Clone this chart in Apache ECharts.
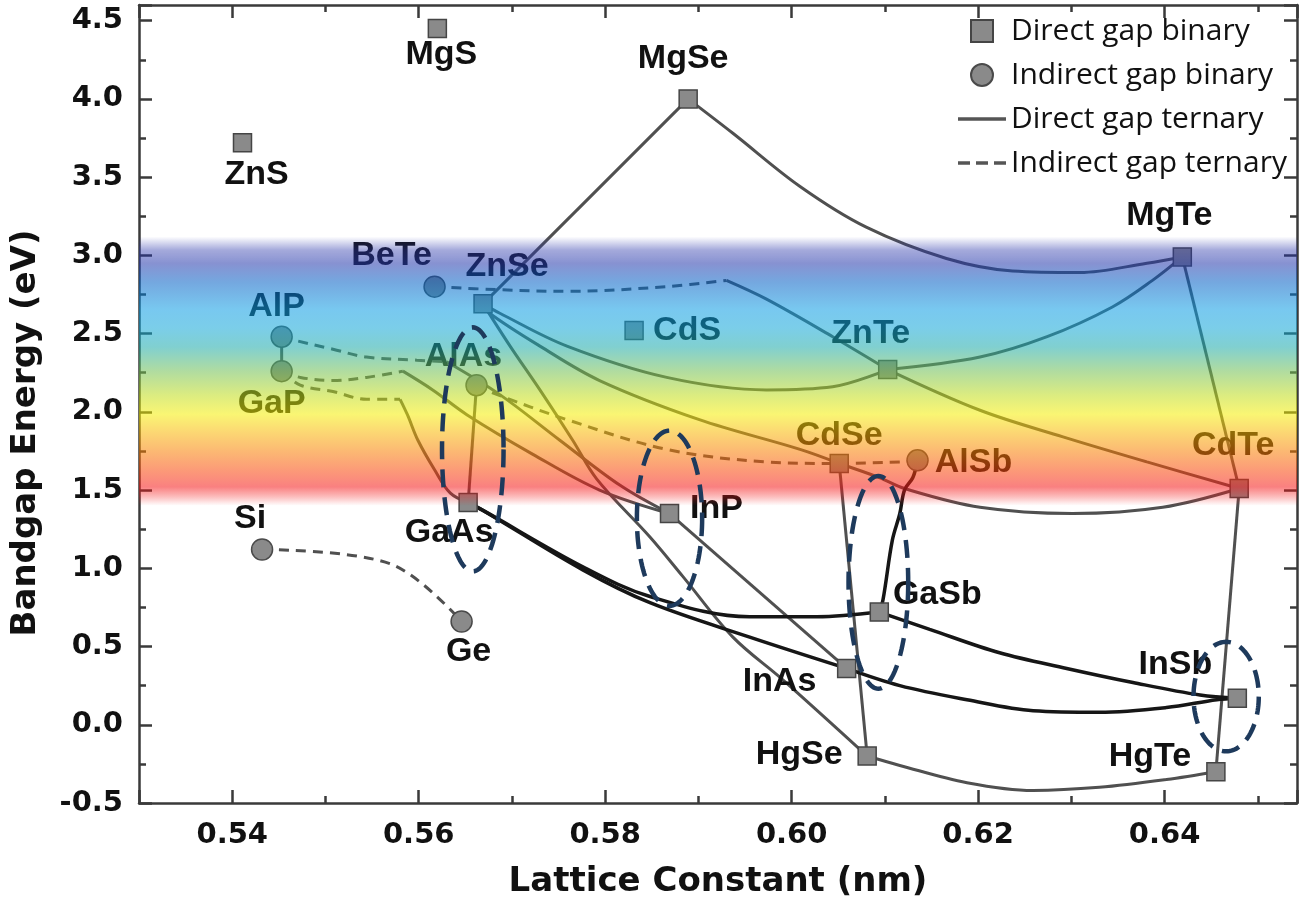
<!DOCTYPE html>
<html>
<head>
<meta charset="utf-8">
<script src="https://cdn.jsdelivr.net/npm/echarts/dist/echarts.min.js"></script>
<style>html,body{margin:0;padding:0;background:#fff}#c{width:1304px;height:905px}</style>
</head>
<body>
<div id="c"></div>
<script>
// ---------- binaries: lattice constant (nm), bandgap (eV) ----------
const directNames = ['ZnS','MgS','MgSe','MgTe','ZnSe','CdS','ZnTe','CdSe','CdTe','GaAs','InP','InAs','GaSb','InSb','HgSe','HgTe'];
const directX     = [0.5411,0.5620,0.5889,0.6419,0.5669,0.5831,0.6103,0.6051,0.6480,0.5653,0.5869,0.6059,0.6094,0.6478,0.6081,0.6455];
const directY     = [3.72,4.45,4.00,2.99,2.69,2.52,2.27,1.67,1.51,1.42,1.35,0.36,0.72,0.17,-0.20,-0.30];

const indirectNames = ['BeTe','AlP','GaP','AlAs','AlSb','Si','Ge'];
const indirectX     = [0.5617,0.5453,0.5453,0.5662,0.6135,0.5432,0.5646];
const indirectY     = [2.80,2.48,2.26,2.17,1.69,1.12,0.66];

// ---------- ternary curves [lattice nm, gap eV] ----------
// direct gap (grey)
const ZnSe_MgSe = [[0.5669,2.69],[0.5889,4.00]];
const MgSe_MgTe = [[0.5889,4.00],[0.5937,3.78],[0.6009,3.44],[0.6080,3.18],[0.6166,2.98],[0.6237,2.90],[0.6309,2.89],[0.6381,2.95],[0.6419,2.99]];
const ZnTe_MgTe = [[0.6103,2.27],[0.6202,2.35],[0.6274,2.48],[0.6344,2.67],[0.6387,2.84],[0.6419,2.99]];
const MgTe_CdTe = [[0.6419,2.99],[0.6480,1.51]];
const ZnTe_CdTe = [[0.6103,2.27],[0.6202,2.01],[0.6291,1.84],[0.6381,1.68],[0.6480,1.51]];
const ZnSe_ZnTe = [[0.5669,2.69],[0.5687,2.63],[0.5759,2.42],[0.5866,2.22],[0.5973,2.14],[0.6044,2.16],[0.6103,2.27]];
const ZnSe_CdSe = [[0.5669,2.69],[0.5676,2.63],[0.5730,2.42],[0.5794,2.20],[0.5901,1.95],[0.6009,1.76],[0.6051,1.67]];
const CdSe_CdTe = [[0.6051,1.67],[0.6094,1.58],[0.6121,1.51],[0.6202,1.39],[0.6301,1.35],[0.6398,1.39],[0.6480,1.51]];
const ZnSe_HgSe = [[0.5669,2.69],[0.5698,2.42],[0.5730,2.14],[0.5765,1.82],[0.5791,1.57],[0.5848,1.20],[0.5883,0.95],[0.5937,0.56],[0.5990,0.29],[0.6081,-0.20]];
const CdSe_HgSe = [[0.6051,1.67],[0.6081,-0.20]];
const HgSe_HgTe = [[0.6081,-0.20],[0.6116,-0.26],[0.6188,-0.37],[0.6259,-0.42],[0.6330,-0.40],[0.6402,-0.35],[0.6455,-0.30]];
const HgTe_CdTe = [[0.6455,-0.30],[0.6480,1.51]];
const InP_InAs  = [[0.5869,1.35],[0.6059,0.36]];
const AlAs_GaAs = [[0.5662,2.17],[0.5653,1.42]];
const AlP_GaP   = [[0.5453,2.48],[0.5453,2.26]];
const GaInP_dir = [[0.5583,2.26],[0.5615,2.14],[0.5652,1.98],[0.5722,1.73],[0.5794,1.50],[0.5869,1.35]];
const GaAsP_dir = [[0.5580,2.08],[0.5588,1.98],[0.5599,1.82],[0.5617,1.63],[0.5634,1.48],[0.5653,1.42]];
const AlInP_dir = [[0.5630,2.32],[0.5687,2.11],[0.5751,1.82],[0.5816,1.53],[0.5869,1.35]];
const BeZnTe_dir = [[0.5930,2.84],[0.5973,2.72],[0.6044,2.48],[0.6103,2.27]];
// direct gap (black)
const GaAs_GaSb = [[0.5653,1.42],[0.5669,1.37],[0.5776,1.01],[0.5848,0.82],[0.5955,0.69],[0.6027,0.69],[0.6094,0.72]];
const GaAs_InAs = [[0.5653,1.42],[0.5669,1.37],[0.5776,0.99],[0.5848,0.78],[0.5955,0.56],[0.6059,0.36]];
const InAs_InSb = [[0.6059,0.36],[0.6116,0.25],[0.6188,0.16],[0.6259,0.09],[0.6330,0.08],[0.6402,0.11],[0.6456,0.16],[0.6478,0.17]];
const GaSb_InSb = [[0.6094,0.72],[0.6148,0.61],[0.6223,0.46],[0.6295,0.36],[0.6366,0.27],[0.6438,0.19],[0.6478,0.17]];
const GaSb_AlSb = [[0.6094,0.72],[0.6098,0.80],[0.6108,1.18],[0.6116,1.35],[0.6121,1.50],[0.6130,1.58],[0.6135,1.69]];
// indirect gap (dashed)
const AlInP_ind  = [[0.5453,2.48],[0.5465,2.46],[0.5508,2.40],[0.5544,2.35],[0.5598,2.33],[0.5630,2.32]];
const GaInP_ind  = [[0.5453,2.26],[0.5473,2.22],[0.5508,2.20],[0.5544,2.22],[0.5583,2.26]];
const GaAsP_ind  = [[0.5453,2.26],[0.5473,2.17],[0.5508,2.13],[0.5544,2.08],[0.5580,2.08]];
const AlAsSb_ind = [[0.5662,2.17],[0.5680,2.12],[0.5759,1.95],[0.5866,1.76],[0.5973,1.68],[0.6044,1.67],[0.6116,1.68],[0.6135,1.69]];
const BeZnTe_ind = [[0.5617,2.80],[0.5687,2.78],[0.5759,2.77],[0.5866,2.80],[0.5930,2.84]];
const SiGe_ind   = [[0.5432,1.12],[0.5569,1.03],[0.5646,0.66]];

// visible-spectrum band (eV)
const bandTop = 3.12, bandBottom = 1.40;

// highlighted regions (dashed ellipses): centre x, centre y, half-width (nm), half-height (eV)
const ellipseX  = [0.5658,0.5869,0.6093,0.6466];
const ellipseY  = [1.76,1.32,0.91,0.18];
const ellipseRx = [0.0033,0.0035,0.0032,0.0035];
const ellipseRy = [0.78,0.56,0.68,0.35];

// tick labels
const xTickLabels = ['0.54','0.56','0.58','0.60','0.62','0.64'];
const yTickLabels = ['-0.5','0.0','0.5','1.0','1.5','2.0','2.5','3.0','3.5','4.0','4.5'];

// ---------- styling ----------
const labelOffset = {
  MgS:[4,26], ZnS:[14,32], MgSe:[-5,-40], MgTe:[-13,-41], BeTe:[-43,-31], ZnSe:[24,-37],
  AlP:[-5,-30], GaP:[-10,32], AlAs:[-13,-29], GaAs:[-19,30], InP:[47,-5], CdS:[53,0],
  ZnTe:[-17,-36], CdSe:[0,-28], AlSb:[56,2], CdTe:[-6,-43], GaSb:[58,-17], InAs:[-67,13],
  HgSe:[-68,-1], InSb:[-62,-34], HgTe:[-66,-15], Si:[-12,-31], Ge:[7,30]
};
const GREY = '#505050', BLACK = '#161616', AXIS = '#3a3a3a';

function curve(name, data, color, width, dashed) {
  return {
    type: 'line', name: name, data: data, smooth: 0.35, symbol: 'none', showSymbol: false,
    lineStyle: { color: color, width: width, type: dashed ? [10, 7] : 'solid' },
    itemStyle: { color: color }, z: 2, silent: true, animation: false
  };
}
function binaries(names, xs, ys) {
  return names.map((n, i) => ({ name: n, value: [xs[i], ys[i]], label: { offset: labelOffset[n] } }));
}
const pointLabel = {
  show: true, position: 'inside', formatter: '{b}', align: 'center', verticalAlign: 'middle',
  fontFamily: 'Liberation Sans', fontWeight: 'bold', fontSize: 34, color: '#111'
};

const greyCurves = [ZnSe_MgSe, MgSe_MgTe, ZnTe_MgTe, MgTe_CdTe, ZnTe_CdTe, ZnSe_ZnTe, ZnSe_CdSe, CdSe_CdTe,
  ZnSe_HgSe, CdSe_HgSe, HgSe_HgTe, HgTe_CdTe, InP_InAs, AlAs_GaAs, AlP_GaP, GaInP_dir, GaAsP_dir, AlInP_dir, BeZnTe_dir];
const blackCurves = [GaAs_GaSb, GaAs_InAs, InAs_InSb, GaSb_InSb, GaSb_AlSb];
const dashedCurves = [AlInP_ind, GaInP_ind, GaAsP_ind, AlAsSb_ind, BeZnTe_ind, SiGe_ind];

const series = [];
greyCurves.forEach(c => series.push(curve('Direct gap ternary', c, GREY, 3, false)));
blackCurves.forEach(c => series.push(curve('Direct gap ternary', c, BLACK, 3.5, false)));
dashedCurves.forEach(c => series.push(curve('Indirect gap ternary', c, GREY, 3, true)));

series.push({
  type: 'scatter', name: 'Direct gap binary', symbol: 'rect', symbolSize: 18, z: 5, silent: true,
  itemStyle: { color: '#8a8a8a', borderColor: '#454545', borderWidth: 1.5, opacity: 1 },
  label: pointLabel, data: binaries(directNames, directX, directY)
});
series.push({
  type: 'scatter', name: 'Indirect gap binary', symbol: 'circle', symbolSize: 21, z: 5, silent: true,
  itemStyle: { color: '#8a8a8a', borderColor: '#4a4a4a', borderWidth: 1.5, opacity: 1 },
  label: pointLabel, data: binaries(indirectNames, indirectX, indirectY)
});

// visible-spectrum band drawn as a semi-transparent overlay above everything in the plot
const a = 0.55;
const bandGradient = {
  type: 'linear', x: 0, y: 0, x2: 0, y2: 1,
  colorStops: [
    { offset: 0.00, color: 'rgba(40,50,170,0)' },
    { offset: 0.05, color: 'rgba(40,52,170,0.42)' },
    { offset: 0.10, color: `rgba(36,56,172,${a})` },
    { offset: 0.17, color: `rgba(2,96,198,${a})` },
    { offset: 0.27, color: `rgba(9,155,227,${a})` },
    { offset: 0.34, color: `rgba(14,165,215,${a})` },
    { offset: 0.41, color: `rgba(24,169,169,${a})` },
    { offset: 0.50, color: `rgba(111,191,82,${a})` },
    { offset: 0.59, color: `rgba(191,220,24,${a})` },
    { offset: 0.66, color: `rgba(245,238,0,${a})` },
    { offset: 0.73, color: `rgba(249,180,0,${a})` },
    { offset: 0.80, color: `rgba(249,125,0,${a})` },
    { offset: 0.87, color: `rgba(249,70,9,${a})` },
    { offset: 0.93, color: `rgba(245,24,24,${a})` },
    { offset: 0.965, color: 'rgba(245,24,24,0.3)' },
    { offset: 1.00, color: 'rgba(245,24,24,0)' }
  ]
};
series.push({
  type: 'custom', name: 'band', zlevel: 1, z: 1, silent: true,
  dimensions: ['top', 'bottom'], encode: { y: [0, 1] },
  data: [[bandTop, bandBottom]],
  renderItem: function (params, api) {
    const cs = params.coordSys;
    const yTop = api.coord([0.6, api.value(0)])[1];
    const yBot = api.coord([0.6, api.value(1)])[1];
    return { type: 'rect', shape: { x: cs.x, y: yTop, width: cs.width, height: yBot - yTop },
      style: { fill: bandGradient } };
  }
});

// dashed ellipses
series.push({
  type: 'custom', name: 'highlight', zlevel: 2, z: 2, silent: true,
  data: ellipseX.map((x, i) => [x, ellipseY[i], ellipseRx[i], ellipseRy[i]]),
  renderItem: function (params, api) {
    const c = api.coord([api.value(0), api.value(1)]);
    const s = api.size([api.value(2), api.value(3)]);
    const pts = [];
    for (let k = 0; k <= 120; k++) {
      const t = k / 120 * 2 * Math.PI;
      pts.push([c[0] + s[0] * Math.cos(t), c[1] + s[1] * Math.sin(t)]);
    }
    return { type: 'polygon', shape: { points: pts },
      style: { fill: 'none', stroke: '#1e3a5c', lineWidth: 4.5, lineDash: [18, 10] } };
  }
});

const tickFont = { fontFamily: 'DejaVu Sans', fontWeight: 'bold', fontSize: 29, color: '#111' };
const nameFont = { fontFamily: 'DejaVu Sans', fontWeight: 'bold', fontSize: 34, color: '#111' };
const axLine = { show: true, onZero: false, lineStyle: { color: AXIS, width: 2.5 } };
const majTick = { show: true, inside: true, length: 13, lineStyle: { color: AXIS, width: 2.5 } };
const minTick = { show: true, splitNumber: 2, length: 7, lineStyle: { color: AXIS, width: 2.5 } };
const xRange = { type: 'value', min: 0.53, max: 0.6542, minInterval: 0.02, maxInterval: 0.02 };
const yRange = { type: 'value', min: -0.5, max: 4.6, minInterval: 0.5, maxInterval: 0.5 };

const option = {
  animation: false,
  backgroundColor: '#ffffff',
  grid: { left: 139, right: 7, top: 5, bottom: 102, containLabel: false, outerBoundsMode: 'none' },
  legend: {
    data: [
      { name: 'Direct gap binary', icon: 'path://M0,0L10,0L10,10L0,10Z' },
      { name: 'Indirect gap binary', icon: 'circle' },
      { name: 'Direct gap ternary', icon: 'path://M0,0H48V3.5H0Z', itemStyle: { color: '#555', borderWidth: 0 } },
      { name: 'Indirect gap ternary', icon: 'path://M0,0H12V3.5H0Z M18,0H30V3.5H18Z M36,0H48V3.5H36Z', itemStyle: { color: '#555', borderWidth: 0 } }
    ],
    orient: 'vertical', left: 953, top: 11, itemWidth: 48, itemHeight: 22, itemGap: 14,
    symbolKeepAspect: true, selectedMode: false,
    textStyle: { fontFamily: 'Open Sans', fontSize: 30, color: '#111' }
  },
  xAxis: [
    Object.assign({}, xRange, {
      position: 'bottom', axisLine: axLine, axisTick: majTick, minorTick: minTick,
      splitLine: { show: false }, minorSplitLine: { show: false },
      axisLabel: Object.assign({ margin: 18, formatter: v => { const s = v.toFixed(2); return xTickLabels.includes(s) ? s : ''; } }, tickFont),
      name: 'Lattice Constant (nm)', nameLocation: 'middle', nameGap: 62, nameTextStyle: nameFont
    }),
    Object.assign({}, xRange, {
      position: 'top', axisLine: axLine, axisTick: majTick, minorTick: minTick,
      splitLine: { show: false }, minorSplitLine: { show: false }, axisLabel: { show: false }
    })
  ],
  yAxis: [
    Object.assign({}, yRange, {
      position: 'left', axisLine: axLine, axisTick: majTick, minorTick: minTick,
      splitLine: { show: false }, minorSplitLine: { show: false },
      axisLabel: Object.assign({ margin: 16, formatter: v => { const s = v.toFixed(1); return yTickLabels.includes(s) ? s : ''; } }, tickFont),
      name: 'Bandgap Energy (eV)', nameLocation: 'middle', nameGap: 96, nameRotate: 90,
      nameTextStyle: Object.assign({ padding: [0, 58, 0, 0] }, nameFont)
    }),
    Object.assign({}, yRange, {
      position: 'right', axisLine: axLine, axisTick: majTick, minorTick: minTick,
      splitLine: { show: false }, minorSplitLine: { show: false }, axisLabel: { show: false }
    })
  ],
  series: series
};

const chart = echarts.init(document.getElementById('c'), null, { renderer: 'canvas', width: 1304, height: 905 });
chart.setOption(option);
</script>
</body>
</html>
